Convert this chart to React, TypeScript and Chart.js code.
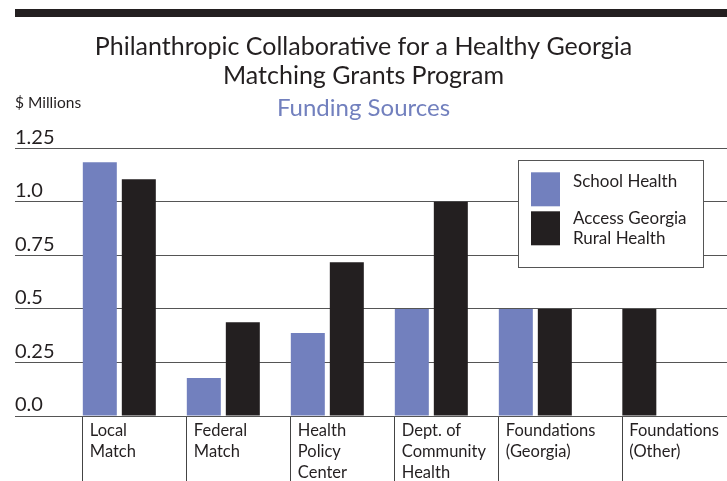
import React, { useEffect, useRef } from "react";
import { Chart, registerables } from "chart.js";

Chart.register(...registerables);

const FONT = "Lato, 'Open Sans', sans-serif";
const INK = "#231f20";
const BLUE = "#7280be";

const titleLines = ["Philanthropic Collaborative for a Healthy Georgia", "Matching Grants Program"];
const subtitleText = "Funding Sources";
const unitLabel = "$ Millions";

const categories: string[][] = [
  ["Local", "Match"],
  ["Federal", "Match"],
  ["Health", "Policy", "Center"],
  ["Dept. of", "Community", "Health"],
  ["Foundations", "(Georgia)"],
  ["Foundations", "(Other)"],
];

const schoolHealth: (number | null)[] = [1.185, 0.177, 0.387, 0.5, 0.5, null];
const accessGeorgiaRural: (number | null)[] = [1.105, 0.438, 0.718, 1.0, 0.5, 0.5];

const seriesLegendLines: string[][] = [["School Health"], ["Access Georgia", "Rural Health"]];

const yTickValues = [0, 0.25, 0.5, 0.75, 1.0, 1.25];
const yTickLabels = ["0.0", "0.25", "0.5", "0.75", "1.0", "1.25"];

const CAT_PCT = 0.75;
const BAR_PCT = 0.872;
const BAR_U = (CAT_PCT / 2) * BAR_PCT;
const GAP_U = (CAT_PCT / 2) * (1 - BAR_PCT);

const decorPlugin = {
  id: "decor",
  beforeDraw(chart: any) {
    const { ctx, chartArea, width } = chart;
    ctx.save();
    ctx.fillStyle = INK;
    ctx.fillRect(chartArea.left, 9, width - chartArea.left, 8);
    ctx.font = `15.5px ${FONT}`;
    ctx.textBaseline = "middle";
    ctx.textAlign = "left";
    ctx.fillText(unitLabel, chartArea.left, chartArea.top - 45);
    ctx.restore();
  },
  afterDatasetsDraw(chart: any) {
    const { ctx, chartArea } = chart;
    const bx = chartArea.right - 209;
    const by = chartArea.top + 12;
    ctx.save();
    ctx.fillStyle = "#ffffff";
    ctx.fillRect(bx, by, 185, 107);
    ctx.strokeStyle = "#555555";
    ctx.lineWidth = 1;
    ctx.strokeRect(Math.round(bx) + 0.5, Math.round(by) + 0.5, 185, 107);
    ctx.font = `17px ${FONT}`;
    ctx.textBaseline = "middle";
    ctx.textAlign = "left";
    chart.data.datasets.forEach((ds: any, i: number) => {
      ctx.fillStyle = ds.backgroundColor;
      ctx.fillRect(bx + 13, by + 12 + i * 39, 29, 34);
      ctx.fillStyle = INK;
      seriesLegendLines[i].forEach((line, j) => {
        ctx.fillText(line, bx + 55, by + 21 + i * 37.5 + j * 19.5);
      });
    });
    ctx.restore();
  },
};

export default function App() {
  const ref = useRef<HTMLCanvasElement | null>(null);

  useEffect(() => {
    if (!ref.current) return;
    const series = [schoolHealth, accessGeorgiaRural];
    const chart = new Chart(ref.current, {
      type: "bar",
      data: {
        labels: categories.map((_, i) => i),
        datasets: [
          {
            label: seriesLegendLines[0].join(" "),
            data: schoolHealth,
            backgroundColor: BLUE,
            categoryPercentage: CAT_PCT,
            barPercentage: BAR_PCT,
            maxBarThickness: 34,
            skipNull: true,
          } as any,
          {
            label: seriesLegendLines[1].join(" "),
            data: accessGeorgiaRural,
            backgroundColor: INK,
            categoryPercentage: CAT_PCT,
            barPercentage: BAR_PCT,
            maxBarThickness: 34,
            skipNull: true,
          } as any,
        ],
      },
      options: {
        responsive: false,
        animation: false,
        layout: { padding: { left: 0, right: 0, top: 0, bottom: 65 } },
        plugins: {
          legend: { display: false },
          tooltip: { enabled: false },
          title: {
            display: true,
            text: titleLines,
            color: INK,
            font: { family: FONT, size: 25, weight: "normal", lineHeight: 1.16 },
            padding: { top: 32.5, bottom: 3 },
          },
          subtitle: {
            display: true,
            text: subtitleText,
            color: BLUE,
            font: { family: FONT, size: 24, weight: "normal", lineHeight: 1.2 },
            padding: { top: 0.5, bottom: 25.5 },
          },
        },
        scales: {
          x: {
            type: "linear",
            position: { y: 0 },
            offset: false,
            bounds: "data",
            min: -1.003,
            max: 5.843,
            afterBuildTicks: (scale: any) => {
              scale.ticks = categories.map((_, i) => {
                const n = series.filter((s) => s[i] !== null && s[i] !== undefined).length;
                return { value: i - (n * BAR_U + (n - 1) * GAP_U) / 2 };
              });
            },
            grid: {
              display: true,
              offset: false,
              drawOnChartArea: false,
              drawTicks: true,
              tickLength: 65,
              color: "#444444",
              lineWidth: 1,
            },
            border: { display: false },
            ticks: {
              align: "start",
              labelOffset: 7,
              padding: -60.25,
              autoSkip: false,
              maxRotation: 0,
              minRotation: 0,
              color: INK,
              font: { family: FONT, size: 16.5, lineHeight: 1.25 },
              callback: (_v: any, i: number) => categories[i],
            },
          },
          y: {
            type: "linear",
            min: 0,
            max: 1.25,
            afterBuildTicks: (scale: any) => {
              scale.ticks = yTickValues.map((v) => ({ value: v }));
            },
            grid: { color: "#555555", lineWidth: 1, drawTicks: true, tickLength: 15, tickColor: "rgba(0,0,0,0)" },
            border: { display: false },
            ticks: {
              mirror: true,
              padding: 0,
              labelOffset: -11,
              color: INK,
              font: { family: FONT, size: 20 },
              callback: (v: any) => yTickLabels[yTickValues.indexOf(Number(v))] ?? "",
            },
          },
        },
      } as any,
      plugins: [decorPlugin],
    });
    return () => chart.destroy();
  }, []);

  return (
    <div style={{ position: "fixed", left: 0, top: 0, width: 727, height: 481, background: "#ffffff" }}>
      <canvas ref={ref} width={727} height={481} style={{ display: "block" }} />
    </div>
  );
}
